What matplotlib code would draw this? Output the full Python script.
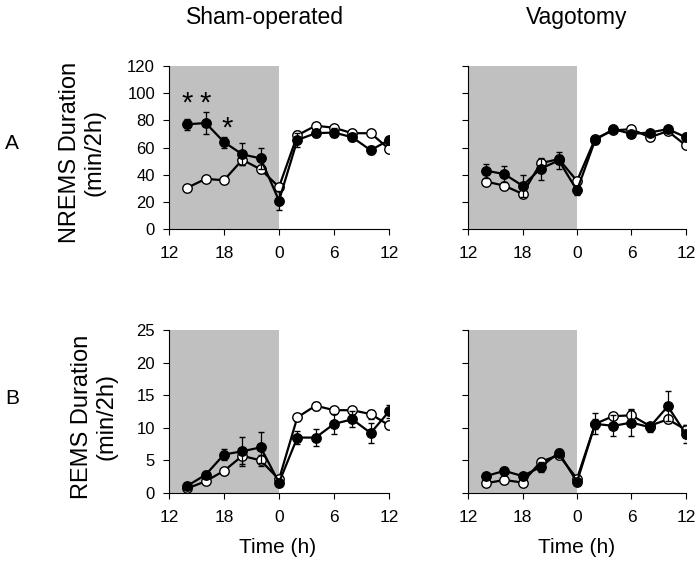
import matplotlib
matplotlib.use("Agg")
import matplotlib.pyplot as plt

plt.rcParams["font.family"] = ["Liberation Sans", "DejaVu Sans"]

# time points (h, relative to light onset) and tick labels
hours = [-10, -8, -6, -4, -2, 0, 2, 4, 6, 8, 10, 12]
xticks = [-12, -6, 0, 6, 12]
xtick_labels = ["12", "18", "0", "6", "12"]

# NREMS, sham-operated
nrem_sham_filled = [77, 78, 64, 55, 52, 21, 65.5, 70.5, 71, 67.5, 58, 65.5]
nrem_sham_filled_err = [4, 8, 4, 8, 8, 7, 5, 3, 3, 3, 3, 2]
nrem_sham_open = [30.5, 37, 36, 51, 44, 31, 69, 76, 74.5, 70.5, 70.5, 59]
nrem_sham_open_err = [1.5, 2, 2, 4, 3, 2, 3, 2, 2, 2, 2, 2]

# NREMS, vagotomy
nrem_vag_filled = [43, 40.5, 32, 44.5, 50.5, 28.5, 65.5, 73.5, 70, 71, 73.5, 67.5]
nrem_vag_filled_err = [5, 6, 8, 8, 6, 3, 3, 2, 2, 2, 2, 3]
nrem_vag_open = [35, 32, 26, 48.5, 51.5, 35.5, 66.5, 72.5, 73.5, 67.5, 72, 61.5]
nrem_vag_open_err = [2, 2, 2, 3, 3, 2, 2, 2, 2, 2, 2, 2]

# REMS, sham-operated
rem_sham_filled = [1.1, 2.8, 5.9, 6.4, 7.0, 1.6, 8.5, 8.5, 10.6, 11.3, 9.2, 12.5]
rem_sham_filled_err = [0.3, 0.5, 0.9, 2.2, 2.4, 0.5, 1.0, 1.3, 1.5, 1.2, 1.5, 1.0]
rem_sham_open = [0.7, 1.8, 3.4, 5.7, 5.0, 2.1, 11.6, 13.4, 12.7, 12.7, 12.1, 10.4]
rem_sham_open_err = [0.2, 0.3, 0.4, 1.2, 0.8, 0.4, 0.5, 0.6, 0.5, 0.5, 0.7, 0.6]

# REMS, vagotomy
rem_vag_filled = [2.6, 3.4, 2.6, 4.0, 6.2, 1.7, 10.6, 10.3, 10.8, 10.1, 13.3, 9.0]
rem_vag_filled_err = [0.4, 0.6, 0.4, 0.8, 0.5, 0.5, 1.6, 1.6, 2.1, 0.7, 2.3, 1.4]
rem_vag_open = [1.5, 2.0, 1.6, 4.8, 5.8, 2.2, 10.6, 11.8, 11.9, 10.3, 11.3, 9.7]
rem_vag_open_err = [0.3, 0.3, 0.3, 0.5, 0.5, 0.4, 0.8, 0.5, 0.8, 0.5, 0.6, 0.8]

# significance asterisks (sham NREMS)
sig_x = [-10, -8, -5.6]
sig_y = [92, 92, 74]

W, H = 698, 573
fig = plt.figure(figsize=(W / 100, H / 100), dpi=100)

panels = [
    ([0.2421, 0.5998, 0.3152, 0.2855], nrem_sham_open, nrem_sham_open_err, nrem_sham_filled, nrem_sham_filled_err, 120, 20, True),
    ([0.6705, 0.5998, 0.3123, 0.2855], nrem_vag_open, nrem_vag_open_err, nrem_vag_filled, nrem_vag_filled_err, 120, 20, False),
    ([0.2421, 0.1396, 0.3152, 0.2845], rem_sham_open, rem_sham_open_err, rem_sham_filled, rem_sham_filled_err, 25, 5, True),
    ([0.6705, 0.1396, 0.3123, 0.2845], rem_vag_open, rem_vag_open_err, rem_vag_filled, rem_vag_filled_err, 25, 5, False),
]

axes = []
for rect, op, op_e, fi, fi_e, ymax, step, labels in panels:
    ax = fig.add_axes(rect)
    ax.axvspan(-12, 0, color="#c0c0c0", lw=0, zorder=0)
    ax.errorbar(hours, op, yerr=op_e, color="black", lw=1.6, marker="o",
                ms=6.8, mfc="white", mec="black", mew=1, ecolor="black",
                elinewidth=0.9, capsize=2.5, zorder=2)
    ax.errorbar(hours, fi, yerr=fi_e, color="black", lw=1.6, marker="o",
                ms=6.8, mfc="black", mec="black", ecolor="black",
                elinewidth=0.9, capsize=2.5, zorder=3)
    ax.set_xlim(-12, 12)
    ax.set_ylim(0, ymax)
    ax.set_xticks(xticks)
    ax.set_xticklabels(xtick_labels, fontsize=12.5)
    ax.set_yticks(range(0, ymax + 1, step))
    if not labels:
        ax.set_yticklabels([])
    ax.tick_params(axis="y", labelsize=12, length=4, direction="out", pad=6)
    ax.tick_params(axis="x", length=4, direction="out", pad=8)
    ax.spines["top"].set_visible(False)
    ax.spines["right"].set_visible(False)
    axes.append(ax)

for xs, ys in zip(sig_x, sig_y):
    axes[0].text(xs, ys, "*", fontsize=21, ha="center", va="center")

# y labels
fig.text(82 / W, 1 - 152 / H, "NREMS Duration\n(min/2h)", fontsize=17,
         rotation=90, ha="center", va="center", linespacing=1.15)
fig.text(94 / W, 1 - 417 / H, "REMS Duration\n(min/2h)", fontsize=17,
         rotation=90, ha="center", va="center", linespacing=1.15)

# x labels
fig.text(278 / W, 1 - 553 / H, "Time (h)", fontsize=15, ha="center", va="baseline")
fig.text(577 / W, 1 - 553 / H, "Time (h)", fontsize=15, ha="center", va="baseline")

# column titles and row letters
fig.text(265 / W, 1 - 24 / H, "Sham-operated", fontsize=16.5, ha="center", va="baseline")
fig.text(577 / W, 1 - 24 / H, "Vagotomy", fontsize=16.5, ha="center", va="baseline")
fig.text(12 / W, 1 - 143 / H, "A", fontsize=15, ha="center", va="center")
fig.text(12 / W, 1 - 398 / H, "B", fontsize=15, ha="center", va="center")

fig.savefig("out.png", dpi=100)
